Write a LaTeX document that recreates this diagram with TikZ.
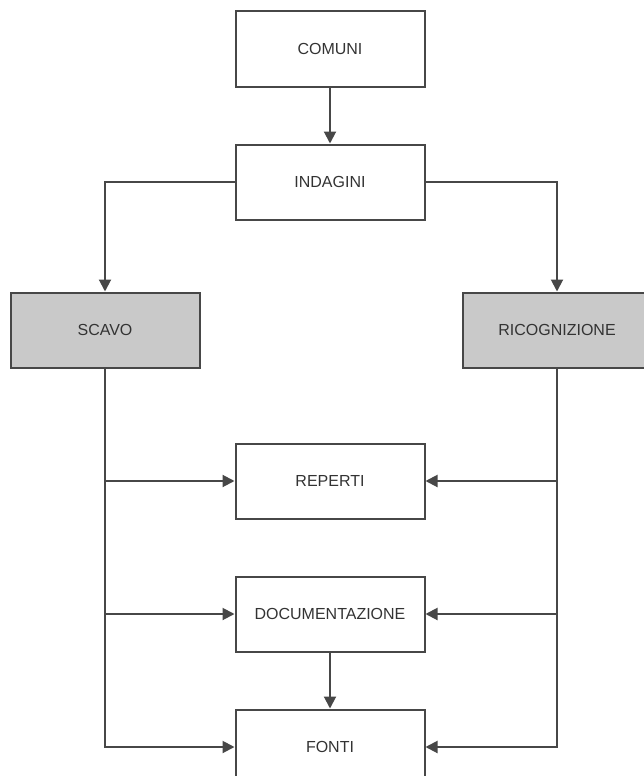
\documentclass[tikz,border=0pt]{standalone}
\usepackage{fontspec}
\setmainfont{Liberation Sans}
\usepackage{tikz}
\usetikzlibrary{positioning,arrows.meta}

\definecolor{linegray}{HTML}{474747}
\definecolor{textgray}{HTML}{333333}
\definecolor{boxfill}{HTML}{C9C9C9}

\begin{document}
\begin{tikzpicture}[
    x=1pt, y=-1pt,
    node distance=56pt,
    box/.style={rectangle, draw=linegray, line width=2pt, minimum width=189pt, minimum height=75pt,
                inner sep=0pt, text=textgray, font=\fontsize{16}{19}\selectfont},
    sidebox/.style={box, fill=boxfill}, % shaded boxes on the sides
    arr/.style={draw=linegray, line width=2pt, -{Triangle[length=12pt,width=12pt]}}
]
\useasboundingbox (0,0) rectangle (644,776);
\clip (0,0) rectangle (644,776);

% Central column
\node[box] at (330,49) (comuni) {COMUNI};
\node[box, below=of comuni] (indagini) {INDAGINI};

% Side boxes
\node[sidebox] at (105,330) (scavo) {SCAVO};
\node[sidebox] at (557,330) (ricognizione) {RICOGNIZIONE};

\node[box] at (330,481) (reperti) {REPERTI};
\node[box, below=of reperti] (documentazione) {DOCUMENTAZIONE};
\node[box, below=of documentazione] (fonti) {FONTI};

% Edges
\draw[arr] (comuni) -- (indagini);
\draw[arr] (indagini.west) -| (scavo.north);
\draw[arr] (indagini.east) -| (ricognizione.north);
\draw[arr] (documentazione) -- (fonti);

\draw[arr] (scavo.south) |- (fonti.west);
\draw[arr] (ricognizione.south) |- (fonti.east);
\foreach \t in {reperti,documentazione}{
  \draw[arr] (scavo.south |- \t.west) -- (\t.west);
  \draw[arr] (ricognizione.south |- \t.east) -- (\t.east);
}

\end{tikzpicture}
\end{document}
